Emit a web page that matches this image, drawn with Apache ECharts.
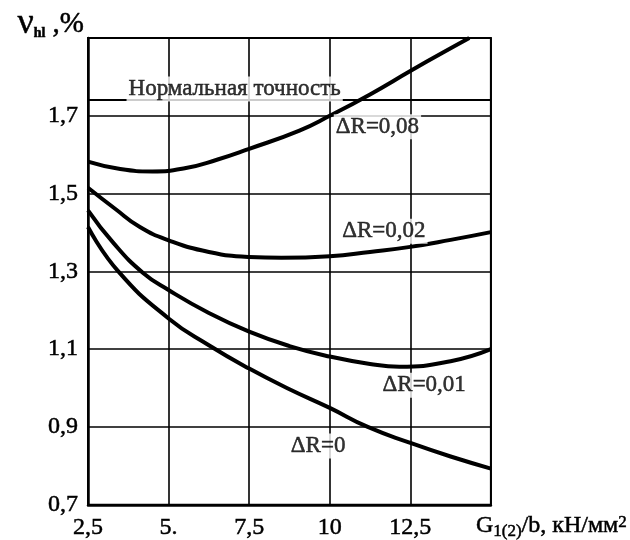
<!DOCTYPE html>
<html>
<head>
<meta charset="utf-8">
<script src="https://cdn.jsdelivr.net/npm/echarts@6/dist/echarts.min.js"></script>
<style>
  html, body { margin: 0; padding: 0; background: #fff; }
  #chart { width: 630px; height: 540px; }
</style>
</head>
<body>
<div id="chart"></div>
<script>
// Tick labels along both axes
const xTickLabels = ['2,5', '5.', '7,5', '10', '12,5', ''];
const yTickLabels = ['0,7', '0,9', '1,1', '1,3', '1,5', '1,7', ''];

// Curves: load G1(2)/b (x) against v_hl, % (y) for each ΔR
const xR0 = [2.5, 3.44, 5, 6.25, 7.5, 8.75, 10, 11.18, 12.5, 13.75, 15];
const yR0 = [1.414, 1.30, 1.179, 1.11, 1.05, 0.997, 0.949, 0.90, 0.859, 0.824, 0.793];

const xR001 = [2.5, 3.3, 4.21, 5, 6.25, 7.5, 8.75, 10, 11.25, 12.16, 13.75, 15];
const yR001 = [1.457, 1.372, 1.296, 1.252, 1.193, 1.145, 1.108, 1.081, 1.062, 1.055, 1.069, 1.10];

const xR002 = [2.5, 3.34, 4.11, 5, 6.25, 7.5, 8.5, 10, 11.25, 12.5, 13.75, 15];
const yR002 = [1.515, 1.461, 1.414, 1.380, 1.350, 1.337, 1.335, 1.339, 1.350, 1.363, 1.381, 1.401];

const xR008 = [2.5, 3.5, 4.5, 5.5, 6.5, 7.5, 9.06, 10, 11.25, 12.5, 13.5, 14.33];
const yR008 = [1.582, 1.563, 1.557, 1.565, 1.587, 1.615, 1.662, 1.70, 1.755, 1.815, 1.862, 1.9];

// Reference level "normal accuracy"
const normalLevel = 1.74;
const normalText = 'Нормальная точность';

// Curve captions, anchored in data units
const captionText = ['ΔR=0', 'ΔR=0,01', 'ΔR=0,02', 'ΔR=0,08', normalText];
const captionX = [9.64, 12.93, 11.68, 11.48, 7.05];
const captionY = [0.851, 1.007, 1.403, 1.672, 1.769];

const FONT = 'Liberation Serif';
// thin outline in the text colour gives the printed glyphs a heavier stroke
const INK = { color: '#000', textBorderColor: '#000', textBorderWidth: 0.5 };
const pairs = (xs, ys) => xs.map((x, i) => [x, ys[i]]);

const curveStyle = { color: '#000', width: 4 };
function curve(name, xs, ys) {
  return {
    name, type: 'line', data: pairs(xs, ys), smooth: 0.5,
    showSymbol: false, symbol: 'none', clip: true,
    lineStyle: curveStyle, z: 3
  };
}

const chart = echarts.init(document.getElementById('chart'), null, { renderer: 'canvas' });
chart.setOption({
  animation: false,
  backgroundColor: '#fff',
  grid: {
    left: 88, top: 38, right: 139, bottom: 34,
    show: true, borderColor: '#000', borderWidth: 2, backgroundColor: 'transparent'
  },
  xAxis: {
    type: 'value', min: 2.5, max: 15, interval: 2.5,
    axisLine: { lineStyle: { color: '#000', width: 2.5 } },
    axisTick: { show: false },
    splitLine: { lineStyle: { color: '#000', width: 1.6 } },
    axisLabel: Object.assign({
      fontFamily: FONT, fontSize: 24, margin: 11,
      formatter: (v) => xTickLabels[Math.round((v - 2.5) / 2.5)] || ''
    }, INK),
    name: '{m|G}{sub|1(2)}{m|/b, кН/мм}{sup|2}',
    nameLocation: 'end',
    nameGap: -15,
    nameTextStyle: {
      align: 'left', verticalAlign: 'top', padding: [9, 0, 0, 0],
      rich: {
        m: Object.assign({ fontFamily: FONT, fontSize: 24, lineHeight: 26, verticalAlign: 'top' }, INK),
        sub: Object.assign({ fontFamily: FONT, fontSize: 17, lineHeight: 17, verticalAlign: 'bottom' }, INK),
        sup: Object.assign({ fontFamily: FONT, fontSize: 17, lineHeight: 17, verticalAlign: 'top' }, INK)
      }
    }
  },
  yAxis: {
    type: 'value', min: 0.7, max: 1.9, interval: 0.2,
    axisLine: { show: true, lineStyle: { color: '#000', width: 2.5 } },
    axisTick: { show: false },
    splitLine: { lineStyle: { color: '#000', width: 1.6 } },
    axisLabel: Object.assign({
      fontFamily: FONT, fontSize: 24, margin: 10,
      formatter: (v) => yTickLabels[Math.round((v - 0.7) / 0.2)] || ''
    }, INK),
    name: '{v|ν}{sub|hl}{m| ,%}',
    nameLocation: 'end',
    nameGap: 0,
    nameTextStyle: {
      align: 'right', verticalAlign: 'bottom', padding: [0, 4, -2, 0],
      rich: {
        v: Object.assign({ fontFamily: FONT, fontSize: 36, lineHeight: 32 }, INK),
        sub: Object.assign({ fontFamily: FONT, fontSize: 14, fontWeight: 'bold', lineHeight: 30, verticalAlign: 'bottom' }, INK),
        m: Object.assign({ fontFamily: FONT, fontSize: 29, lineHeight: 32 }, INK)
      }
    }
  },
  series: [
    curve('ΔR=0', xR0, yR0),
    curve('ΔR=0,01', xR001, yR001),
    curve('ΔR=0,02', xR002, yR002),
    curve('ΔR=0,08', xR008, yR008),
    {
      name: 'normal', type: 'line', data: [], symbol: 'none',
      markLine: {
        silent: true, symbol: 'none', label: { show: false },
        lineStyle: { color: '#000', width: 2, type: 'solid' },
        data: [{ yAxis: normalLevel }]
      }
    },
    {
      name: 'captions', type: 'scatter', symbolSize: 0, z: 5,
      data: captionText.map((t, i) => ({ value: [captionX[i], captionY[i]], name: t })),
      label: Object.assign({
        show: true, position: 'inside', formatter: (p) => p.name,
        fontFamily: FONT, fontSize: 23,
        backgroundColor: '#fff', padding: [1, 2]
      }, INK)
    }
  ]
});
</script>
</body>
</html>
